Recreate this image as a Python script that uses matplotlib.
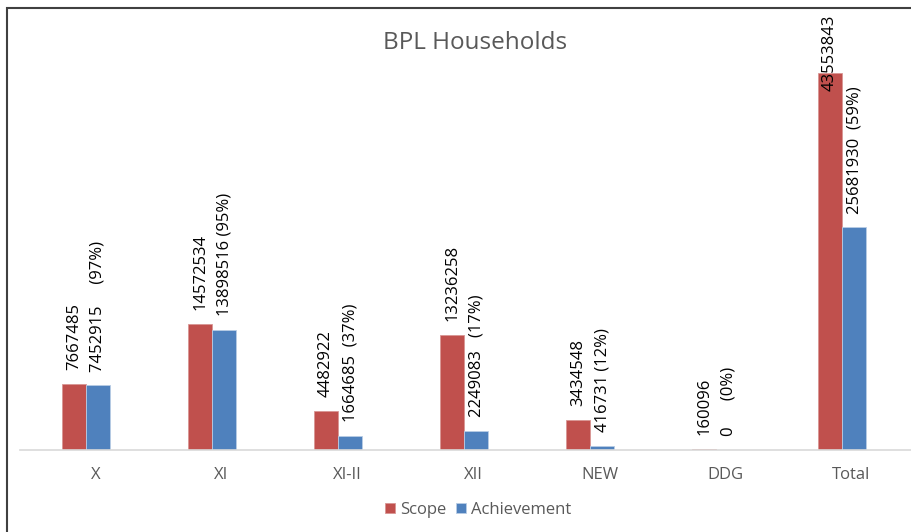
import matplotlib.pyplot as plt
from matplotlib.patches import Rectangle
import numpy as np

categories = ['X', 'XI', 'XI-II', 'XII', 'NEW', 'DDG', 'Total']
scope = [7667485, 14572534, 4482922, 13236258, 3434548, 160096, 43553843]
achievement = [7452915, 13898516, 1664685, 2249083, 416731, 0, 25681930]
percent = ['(97%)', '(95%)', '(37%)', '(17%)', '(12%)', '(0%)', '(59%)']
gaps = ['     ', ' ', '  ', '   ', ' ', '      ', '  ']

red = '#C0504D'
blue = '#4F81BD'
grey = '#595959'

plt.rcParams['font.family'] = ['Open Sans', 'DejaVu Sans']

fig = plt.figure(figsize=(9.12, 5.32), dpi=100)
ax = fig.add_axes([20 / 912, 1 - 450 / 532, 892 / 912, 442 / 532])

x = np.arange(len(categories))
w = 0.19
# clustered slots of three, the last slot left empty
b1 = ax.bar(x - w, scope, w, color=red, edgecolor='#D99694', linewidth=0.6)
b2 = ax.bar(x, achievement, w, color=blue, edgecolor='#B9CDE5', linewidth=0.6)

ax.set_xlim(-0.619, 6.46)
ax.set_ylim(0, 51.0e6)

for i in range(len(categories)):
    # scope labels; the tallest one is pulled down inside the plot area
    if scope[i] > 40e6:
        ax.annotate(f'{scope[i]}', (x[i] - w, 1.0), xycoords=('data', 'axes fraction'),
                    xytext=(0, -5), textcoords='offset points',
                    rotation=90, ha='center', va='top', fontsize=12)
    else:
        ax.annotate(f'{scope[i]}', (x[i] - w, scope[i]), xytext=(0, 10),
                    textcoords='offset points', rotation=90, ha='center',
                    va='bottom', fontsize=12)
    ax.annotate(f'{achievement[i]}{gaps[i]}{percent[i]}', (x[i], achievement[i]),
                xytext=(0, 10), textcoords='offset points', rotation=90,
                ha='center', va='bottom', fontsize=12)

for s in ['top', 'right', 'left']:
    ax.spines[s].set_visible(False)
ax.spines['bottom'].set_color('#D9D9D9')
ax.spines['bottom'].set_linewidth(1.2)
ax.set_yticks([])
ax.set_xticks(x - 0.02)
ax.set_xticklabels(categories, color=grey, fontsize=12)
ax.tick_params(axis='x', length=0, pad=12)

fig.text(475 / 912, 1 - 43 / 532, 'BPL Households', ha='center', va='center',
         fontsize=17.5, color=grey)

ax.legend([b1, b2], ['Scope', 'Achievement'], loc='center',
          bbox_to_anchor=(478 / 912, 1 - 510 / 532), bbox_transform=fig.transFigure,
          ncol=2, frameon=False, handlelength=0.6, handleheight=0.6,
          handletextpad=0.3, columnspacing=0.6, labelcolor=grey, fontsize=12)

# chart border
fig.patches.append(Rectangle((7 / 912, -0.1), 1.2, 1 - 8 / 532 + 0.1,
                             transform=fig.transFigure, fill=False,
                             edgecolor='#404040', linewidth=1.5))

fig.savefig('out.png', dpi=100)
